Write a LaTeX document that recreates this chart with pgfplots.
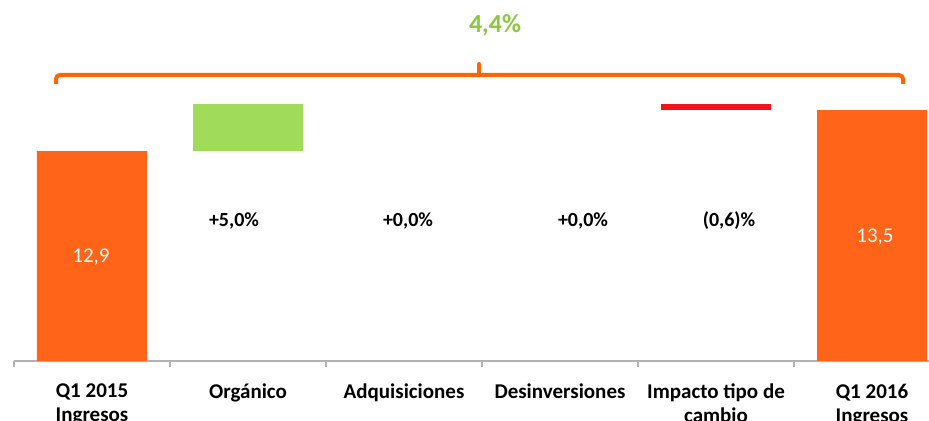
\documentclass[border=0pt]{standalone}
\usepackage{fontspec}
\setmainfont{Carlito}
\usepackage{pgfplots}
\pgfplotsset{compat=1.18}
\definecolor{orn}{HTML}{FF6418}
\definecolor{brc}{HTML}{FF6600}
\definecolor{grn}{HTML}{A0DC5A}
\definecolor{redd}{HTML}{F5101A}
\definecolor{lbl}{HTML}{8DC73F}
\begin{document}
\begin{tikzpicture}
\useasboundingbox (0,0) rectangle (464.5pt,210.5pt);
\begin{axis}[at={(7pt,30pt)}, anchor=south west, scale only axis,
  width=468pt, height=180.5pt,
  xmin=-0.5, xmax=5.5, ymin=9.83, ymax=15.11,
  ybar stacked, bar width=55pt,
  axis x line*=bottom, axis y line=none, ytick=\empty,
  x axis line style={-, draw=gray!60, line width=0.8pt},
  xtick={0,...,5},
  xticklabels={{Q1 2015\\Ingresos},{Orgánico},{Adquisiciones},{Desinversiones},{Impacto tipo de\\cambio},{Q1 2016\\Ingresos}},
  major x tick style={draw=none},
  minor xtick={-0.5,0.5,...,5.5},
  minor x tick style={draw=gray!60, line width=0.8pt},
  minor tick length=3pt, tick align=outside,
  xticklabel style={font=\bfseries\fontsize{10.5}{12}\selectfont, align=center, inner sep=0pt, yshift=-7pt},
]
\addplot[fill=orn, draw=none] coordinates {(0,12.9) (1,0) (2,0) (3,0) (4,0) (5,13.5)};
\addplot[fill=none, draw=none] coordinates {(0,0) (1,12.9) (2,0) (3,0) (4,13.50) (5,0)};
\addplot[fill=grn, draw=none] coordinates {(0,0) (1,0.687) (2,0) (3,0) (4,0) (5,0)};
\addplot[fill=redd, draw=none] coordinates {(0,0) (1,0) (2,0) (3,0) (4,0.087) (5,0)};
\end{axis}
\begin{scope}[x=0.5pt, y=-0.5pt, shift={(0pt,210.5pt)}]
\draw[brc, line width=2pt, rounded corners=2pt] (56,84) -- (56,75) -- (903,75) -- (903,84);
\draw[brc, line width=2pt, line cap=round] (479,75) -- (479,64);
\node[lbl, font=\bfseries\fontsize{13}{15}\selectfont] at (495,25) {4,4\%};
\node[font=\bfseries\fontsize{10}{12}\selectfont] at (234,221) {+5,0\%};
\node[font=\bfseries\fontsize{10}{12}\selectfont] at (408,221) {+0,0\%};
\node[font=\bfseries\fontsize{10}{12}\selectfont] at (583,221) {+0,0\%};
\node[font=\bfseries\fontsize{10}{12}\selectfont] at (729,221) {(0,6)\%};
\node[white, font=\fontsize{10.5}{12}\selectfont] at (91,257) {12,9};
\node[white, font=\fontsize{10.5}{12}\selectfont] at (875,237) {13,5};
\end{scope}
\end{tikzpicture}
\end{document}
